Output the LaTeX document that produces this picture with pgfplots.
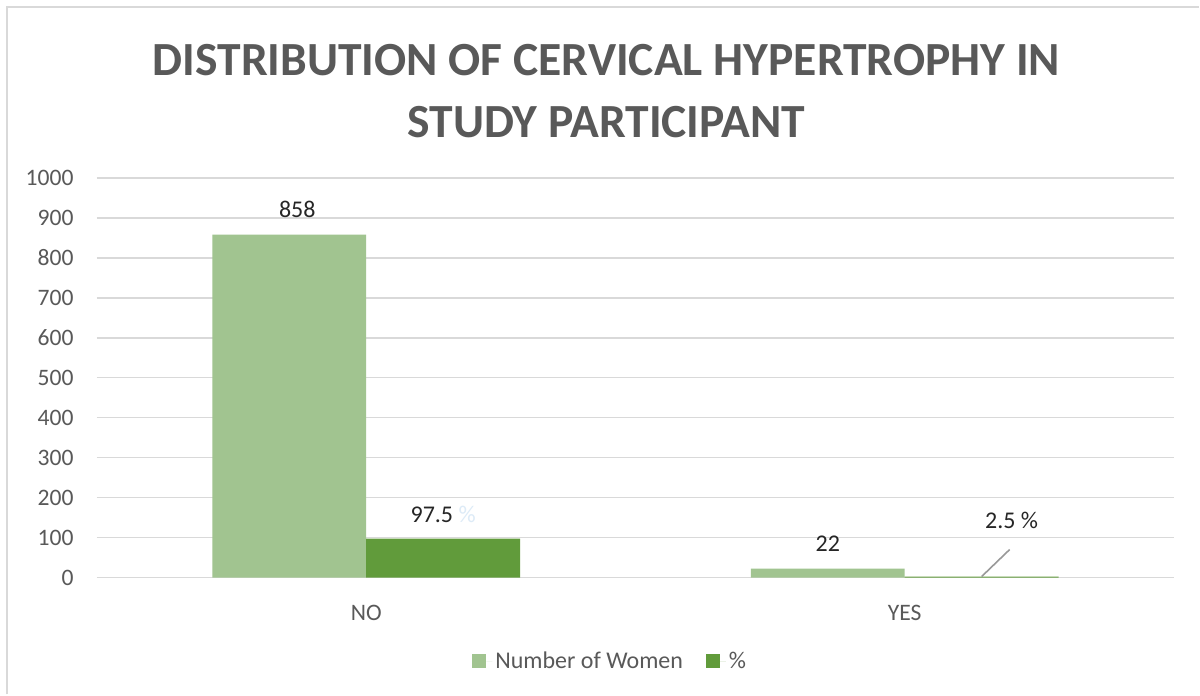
\documentclass[border=0pt]{standalone}
\usepackage{fontspec}
\setmainfont{Carlito}
\usepackage{pgfplots}
\pgfplotsset{compat=1.18}
\definecolor{lightbar}{HTML}{A1C490}
\definecolor{darkbar}{HTML}{619B3B}
\definecolor{txtgrey}{HTML}{595959}
\definecolor{gridgrey}{HTML}{D9D9D9}
\definecolor{pctblue}{HTML}{DDEBF7}
\definecolor{lblcol}{HTML}{262626}
\begin{document}
\begin{tikzpicture}
\fill[white] (0,0) rectangle (600pt,347.5pt);
\draw[gridgrey, line width=1pt] (3.75pt,0) -- (3.75pt,343.75pt) -- (600pt,343.75pt);
\node[anchor=base, text=txtgrey, font=\fontsize{23.8}{29}\selectfont\bfseries] at (303.5pt,309.5pt) {DISTRIBUTION OF CERVICAL HYPERTROPHY IN};
\node[anchor=base, text=txtgrey, font=\fontsize{23.8}{29}\selectfont\bfseries] at (303.5pt,278.5pt) {STUDY PARTICIPANT};
\begin{axis}[
  at={(48.5pt,58.5pt)}, anchor=south west,
  scale only axis, width=539pt, height=200pt,
  xmin=-0.5, xmax=1.5, ymin=0, ymax=1000,
  ytick={0,100,...,1000},
  xtick={0,1}, xticklabels={NO,YES},
  axis line style={draw=none},
  major tick length=0pt,
  ymajorgrids, grid style={gridgrey, line width=0.8pt},
  /pgf/number format/assume math mode=true,
  /pgf/number format/1000 sep={},
  ticklabel style={text=txtgrey, font=\fontsize{11.8}{13}\selectfont},
  yticklabel style={anchor=east, inner sep=0pt, xshift=-11.5pt},
  xticklabel style={anchor=base, inner sep=0pt, yshift=-21.5pt},
  ybar=0pt, bar width=77pt,
  clip=false,
  legend columns=2,
  legend style={at={(0.477,0)}, anchor=center, yshift=-42pt, draw=none, fill=none,
    font=\fontsize{12}{14}\selectfont, text=txtgrey,
    /tikz/every even column/.append style={column sep=10pt},
    nodes={inner sep=1.5pt}},
  legend image code/.code={\fill[#1] (0pt,-3.5pt) rectangle (7pt,3.5pt); \path (7pt,0) -- (10pt,0);},
]
\addplot[fill=lightbar, draw=none,
  nodes near coords,
  nodes near coords style={anchor=base, yshift=8.5pt, text=lblcol, font=\fontsize{12}{14}\selectfont},
  point meta=explicit symbolic]
  coordinates {(0,858) [\hspace*{8pt}858] (1,22) [22]};
\addplot[fill=darkbar, draw=none] coordinates {(0,97.5) (1,2.5)};
\legend{Number of Women,\%}
\node[anchor=base, text=lblcol, font=\fontsize{12}{14}\selectfont] at ([xshift=38.5pt,yshift=8pt]axis cs:0,97.5) {97.5 \textcolor{pctblue}{\%}};
\draw[black!40, line width=0.8pt] ([xshift=38.5pt]axis cs:1,2.5) -- ++(14pt,13.5pt);
\node[anchor=base, text=lblcol, font=\fontsize{12}{14}\selectfont] at ([xshift=53.5pt,yshift=24pt]axis cs:1,2.5) {2.5 \%};
\end{axis}
\end{tikzpicture}
\end{document}
